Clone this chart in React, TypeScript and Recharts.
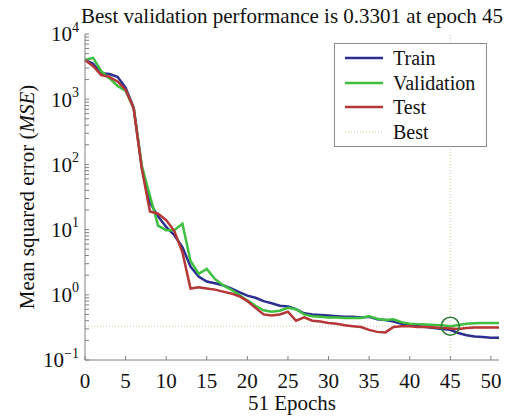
import React from 'react';
import { LineChart, Line, XAxis, YAxis, ReferenceLine, ReferenceDot, Legend } from 'recharts';

// MSE per epoch (epochs 0..51)
const trainMse = [
  4000, 3500, 2500, 2430, 2200, 1500, 740, 90, 26, 16,
  11, 8.2, 5.4, 2.7, 1.9, 1.6, 1.5, 1.4, 1.25, 1.1,
  0.97, 0.9, 0.8, 0.74, 0.68, 0.66, 0.6, 0.52, 0.5, 0.49,
  0.48, 0.47, 0.46, 0.46, 0.45, 0.46, 0.42, 0.41, 0.39, 0.36,
  0.34, 0.33, 0.32, 0.31, 0.3, 0.29, 0.26, 0.24, 0.23, 0.225,
  0.22, 0.22,
];
const validationMse = [
  4000, 4300, 2700, 2100, 1600, 1350, 720, 95, 33, 11.5,
  9.8, 9.8, 12.3, 3.3, 2.1, 2.5, 1.75, 1.4, 1.2, 1.0,
  0.82, 0.68, 0.58, 0.55, 0.57, 0.63, 0.6, 0.5, 0.47, 0.46,
  0.45, 0.45, 0.44, 0.44, 0.44, 0.47, 0.43, 0.41, 0.42, 0.38,
  0.36, 0.355, 0.35, 0.345, 0.34, 0.3301, 0.345, 0.36, 0.365, 0.37,
  0.37, 0.37,
];
const testMse = [
  4000, 3200, 2350, 2200, 1870, 1400, 720, 85, 19, 17.5,
  14, 9.5, 4.5, 1.25, 1.3, 1.25, 1.2, 1.12, 1.05, 0.95,
  0.8, 0.63, 0.5, 0.48, 0.5, 0.55, 0.4, 0.45, 0.4, 0.39,
  0.37, 0.36, 0.34, 0.33, 0.32, 0.29, 0.27, 0.265, 0.32, 0.33,
  0.33, 0.32, 0.32, 0.315, 0.31, 0.305, 0.3, 0.31, 0.315, 0.315,
  0.315, 0.315,
];

const bestEpoch = 45;
const bestPerf = 0.3301;

const xTicks = [0, 5, 10, 15, 20, 25, 30, 35, 40, 45, 50];
const decades = [0.1, 1, 10, 100, 1000, 10000];
const minorSteps = [2, 3, 4, 5, 6, 7, 8, 9];

const data = trainMse.map((v, i) => ({
  epoch: i,
  train: v,
  validation: validationMse[i],
  test: testMse[i],
}));

// log axis ticks: decades get labels, the rest are minor marks
const yTicks: number[] = [];
decades.forEach((d, i) => {
  yTicks.push(d);
  if (i < decades.length - 1) minorSteps.forEach((m) => yTicks.push(+(d * m).toPrecision(3)));
});

const FONT = 'Liberation Serif, DejaVu Serif, serif';
const AXIS = '#808080';
const colors = { train: '#2b2f8f', validation: '#3fbf3f', test: '#b53636', best: '#cfc6a2' };

const legendRows = [
  { name: 'Train', color: colors.train, dotted: false },
  { name: 'Validation', color: colors.validation, dotted: false },
  { name: 'Test', color: colors.test, dotted: false },
  { name: 'Best', color: colors.best, dotted: true },
];

const PowerTick = (props: any) => {
  const { x, y, payload } = props;
  const lg = Math.log10(payload.value);
  const exp = Math.round(lg);
  if (Math.abs(lg - exp) > 1e-6) return <g />;
  const sup = exp < 0 ? '\u2212' + Math.abs(exp) : String(exp);
  return (
    <text x={x} y={y} textAnchor="end" fontFamily={FONT} fontSize={21} fill="#111">
      <tspan dy="0.35em">10</tspan>
      <tspan dy="-0.7em" fontSize={14}>{sup}</tspan>
    </text>
  );
};

const EpochTick = (props: any) => {
  const { x, y, payload } = props;
  return (
    <text x={x} y={y} dy="0.71em" textAnchor="middle" fontFamily={FONT} fontSize={21} fill="#111">
      {payload.value}
    </text>
  );
};

const LegendBox = () => (
  <div
    style={{
      border: '1px solid #8a8a8a',
      background: '#fff',
      padding: '2px 8px 2px 10px',
      fontFamily: FONT,
      fontSize: 20,
      lineHeight: '24.5px',
      color: '#111',
    }}
  >
    {legendRows.map((r) => (
      <div key={r.name} style={{ display: 'flex', alignItems: 'center' }}>
        <svg width={38} height={6} style={{ marginRight: 10 }}>
          <line
            x1={0}
            x2={38}
            y1={3}
            y2={3}
            stroke={r.color}
            strokeWidth={r.dotted ? 1 : 2.5}
            strokeDasharray={r.dotted ? '1 2' : undefined}
          />
        </svg>
        <span>{r.name}</span>
      </div>
    ))}
  </div>
);

export default function App() {
  return (
    <div style={{ position: 'absolute', left: 0, top: 0, width: 519, height: 417, background: '#fff' }}>
      <div
        style={{
          position: 'absolute',
          left: 0,
          top: 4,
          width: 584,
          textAlign: 'center',
          fontFamily: FONT,
          fontSize: 21,
          color: '#111',
          whiteSpace: 'nowrap',
        }}
      >
        Best validation performance is {bestPerf} at epoch {bestEpoch}
      </div>
      <LineChart
        width={519}
        height={417}
        data={data}
        margin={{ top: 34, right: 20, bottom: 27, left: 25 }}
        style={{ position: 'absolute', left: 0, top: 0 }}
      >
        <XAxis
          dataKey="epoch"
          type="number"
          domain={[0, 51]}
          ticks={xTicks}
          interval={0}
          height={30}
          stroke={AXIS}
          tickSize={-4}
          tickMargin={17}
          tick={<EpochTick />}
          label={{
            content: (p: any) => {
              const vb = p.viewBox;
              return (
                <text
                  x={vb.x + vb.width / 2}
                  y={410}
                  textAnchor="middle"
                  fontFamily={FONT}
                  fontSize={21}
                  fill="#111"
                >
                  51 Epochs
                </text>
              );
            },
          }}
        />
        <YAxis
          scale="log"
          domain={[0.1, 10000]}
          allowDataOverflow
          ticks={yTicks}
          interval={0}
          width={60}
          stroke={AXIS}
          tickSize={-4}
          tickMargin={10}
          tick={<PowerTick />}
          label={{
            content: (p: any) => {
              const vb = p.viewBox;
              const cy = vb.y + vb.height / 2;
              return (
                <text
                  x={27}
                  y={cy}
                  transform={`rotate(-90 27 ${cy})`}
                  dy="0.35em"
                  textAnchor="middle"
                  fontFamily={FONT}
                  fontSize={21}
                  fill="#111"
                >
                  Mean squared error (<tspan fontStyle="italic">MSE</tspan>)
                </text>
              );
            },
          }}
        />
        <ReferenceLine x={bestEpoch} stroke={colors.best} strokeDasharray="1 2" />
        <ReferenceLine y={bestPerf} stroke={colors.best} strokeDasharray="1 2" />
        <Line name="Train" dataKey="train" type="linear" stroke={colors.train} strokeWidth={2.5} dot={false} isAnimationActive={false} />
        <Line name="Validation" dataKey="validation" type="linear" stroke={colors.validation} strokeWidth={2.5} dot={false} isAnimationActive={false} />
        <Line name="Test" dataKey="test" type="linear" stroke={colors.test} strokeWidth={2.5} dot={false} isAnimationActive={false} />
        <ReferenceDot x={bestEpoch} y={bestPerf} r={9} fill="none" stroke="#2f7a35" strokeWidth={1.6} />
        <Legend
          layout="vertical"
          verticalAlign="middle"
          align="center"
          wrapperStyle={{ left: 334, top: 43, width: 153 }}
          content={<LegendBox />}
        />
      </LineChart>
    </div>
  );
}
